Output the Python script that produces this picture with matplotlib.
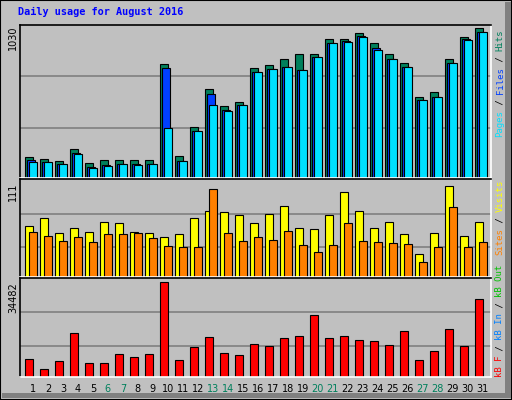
import matplotlib
matplotlib.use("Agg")
import matplotlib.pyplot as plt
from matplotlib.patches import Rectangle

days = list(range(1, 32))
weekend = [6, 7, 13, 14, 20, 21, 27, 28]
hits = [147,133,117,196,105,126,126,126,126,784,154,348,609,497,525,756,777,819,854,854,952,952,994,924,854,791,553,588,819,966,1030]
files = [126,112,96,175,77,91,96,96,96,756,119,322,574,469,504,728,749,763,742,833,924,938,973,896,819,763,539,553,791,952,1001]
pages = [112,112,96,168,70,84,96,89,96,343,119,322,504,462,504,728,749,763,742,833,924,931,966,882,819,763,539,553,791,945,1001]
visits = [61.5,71.2,53,59,54.3,66.3,65.1,54.3,53,48.2,51.9,71.2,79.6,78.4,74.8,65.1,76,86.8,59,57.9,74.8,103.7,79.6,59,66.3,51.9,27.7,53,111,49.4,66.3]
sites = [54.3,49.4,43.4,48.2,42.2,51.9,51.9,53,47,37.4,36.2,36.2,107.3,53,43.4,48.2,44.6,55.5,38.6,30.2,38.6,65.1,43.4,42.2,41,39.8,18.1,36.2,84.4,36.2,42.2]
kbytes = [6544,2769,5789,15983,5034,5034,8432,7299,8432,34482,6167,11075,14473,8810,8054,12207,11452,14095,14850,22779,14095,14850,13340,12963,11830,16738,6167,9565,17493,11452,28442]

W, H = 512, 400
fig = plt.figure(figsize=(W/100, H/100), dpi=100)
fig.patch.set_facecolor("#c0c0c0")
def fx(px): return px / W
def fy(py): return 1 - py / H
# frame
fig.patches.append(Rectangle((0, 0), 1, 1, transform=fig.transFigure, fill=False, ec="black", lw=1.5))
fig.patches.append(Rectangle((fx(505), fy(398)), fx(6), fy(2) - fy(398), transform=fig.transFigure, fc="#808080", ec="none"))
fig.patches.append(Rectangle((fx(2), fy(398)), fx(509), fy(393) - fy(398), transform=fig.transFigure, fc="#808080", ec="none"))

L, R = 20, 491
xl = (-0.33, 31.07)
def mkax(top, bot):
    ax = fig.add_axes([fx(L), fy(bot), fx(R - L), fy(top) - fy(bot)])
    ax.set_facecolor("#c0c0c0")
    ax.set_xlim(*xl)
    ax.set_xticks([]); ax.set_yticks([])
    for s in ax.spines.values():
        s.set_color("black"); s.set_linewidth(1.2)
    ax.spines["right"].set_color("white"); ax.spines["bottom"].set_color("white")
    return ax

bw = 0.53
ax1 = mkax(25, 178)
ax1.set_ylim(0, 1051)
for g in (343, 700):
    ax1.axhline(g, color="#808080", lw=1.2, zorder=0)
x0 = [d - 1 for d in days]
ax1.bar(x0, hits, width=bw, align="edge", color="#00805c", ec="black", lw=0.8)
ax1.bar([x + 0.13 for x in x0], files, width=bw, align="edge", color="#0040ff", ec="black", lw=0.8)
ax1.bar([x + 0.27 for x in x0], pages, width=bw, align="edge", color="#00e0ff", ec="black", lw=0.8)

ax2 = mkax(179, 277)
ax2.set_ylim(0, 119)
for g in (36.2, 76):
    ax2.axhline(g, color="#808080", lw=1.2, zorder=0)
ax2.bar(x0, visits, width=bw, align="edge", color="#ffff00", ec="black", lw=0.8)
ax2.bar([x + 0.27 for x in x0], sites, width=bw, align="edge", color="#ff8000", ec="black", lw=0.8)

ax3 = mkax(278, 377)
ax3.set_ylim(0, 36118)
for g in (11327, 23534):
    ax3.axhline(g, color="#808080", lw=1.2, zorder=0)
ax3.bar(x0, kbytes, width=bw, align="edge", color="#ff0000", ec="black", lw=0.8)

# day labels
for d in days:
    xp = L + (d - 1 + 0.53 - xl[0]) / (xl[1] - xl[0]) * (R - L)
    fig.text(fx(xp), fy(389), str(d), ha="center", va="center", fontsize=7,
             color="#00805c" if d in weekend else "black")

fig.text(fx(18), fy(12), "Daily usage for August 2016", ha="left", va="center",
         fontsize=7.3, fontweight="bold", family="DejaVu Sans Mono", color="#0000ff")

for txt, top in (("1030", 26), ("111", 183), ("34482", 282)):
    fig.text(fx(13), fy(top), txt, rotation=90, ha="center", va="top", fontsize=7, color="black")

cw = 5.35
def vlabel(segs, start):
    y = start
    for t, c in segs:
        fig.text(fx(500), fy(y), t, rotation=90, ha="center", va="bottom", fontsize=6.5,
                 family="DejaVu Sans Mono", color=c)
        y -= cw * len(t)

vlabel([("Pages", "#00e0ff"), (" / ", "black"), ("Files", "#0040ff"), (" / ", "black"), ("Hits", "#00805c")], 137)
vlabel([("Sites", "#ff8000"), (" / ", "black"), ("Visits", "#ffff00")], 255)
vlabel([("kB F", "#ff0000"), (" / ", "black"), ("kB In", "#0080ff"), (" / ", "black"), ("kB Out", "#00c000")], 377)

fig.savefig("out.png", dpi=100, facecolor=fig.get_facecolor())
